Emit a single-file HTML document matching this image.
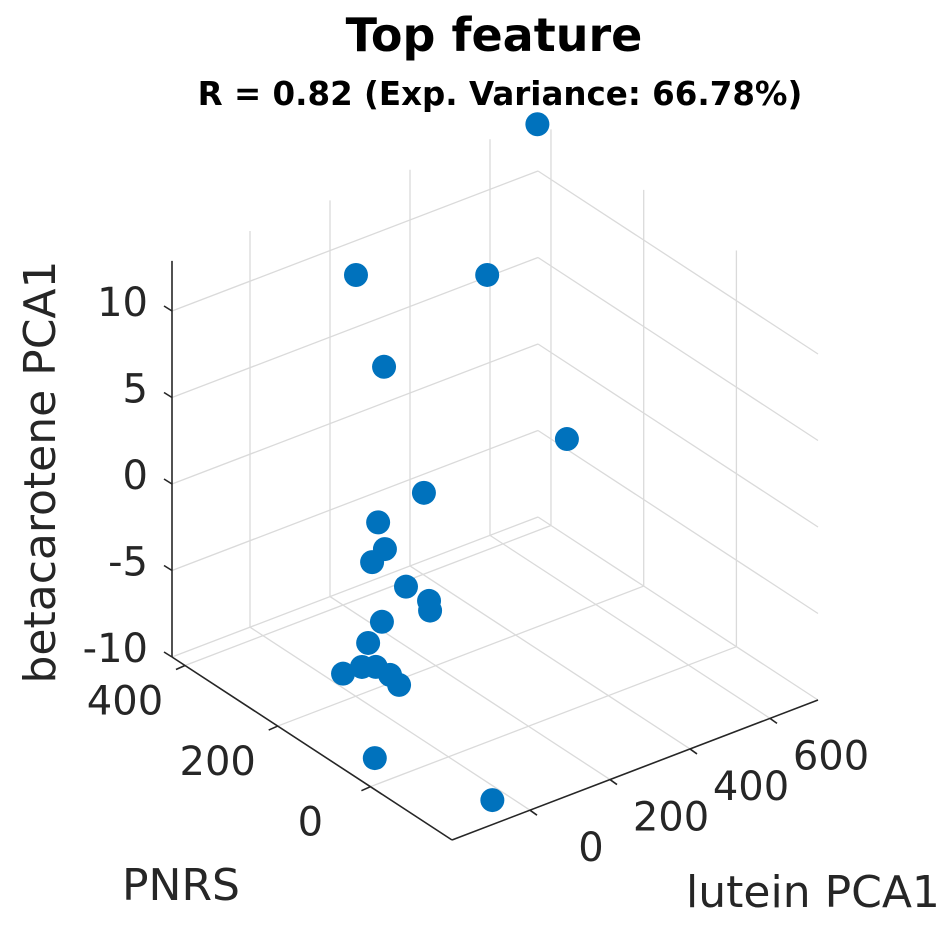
<!DOCTYPE html>
<html><head><meta charset="utf-8"><style>
html,body{margin:0;padding:0;background:#fff;width:945px;height:945px;overflow:hidden}
svg text{font-family:"DejaVu Sans","Liberation Sans",sans-serif;fill:#262626}
</style></head><body>
<svg id="chart" width="945" height="945" viewBox="0 0 945 945" xmlns="http://www.w3.org/2000/svg">
<rect width="945" height="945" fill="#fff"/>
<g id="grid"></g><g id="axes"></g><g id="pts"></g><g id="labels"></g>
<text x="494" y="51" text-anchor="middle" font-size="46" font-weight="bold" style="fill:#000">Top feature</text>
<text x="500" y="105" text-anchor="middle" font-size="32.5" font-weight="bold" style="fill:#000">R = 0.82 (Exp. Variance: 66.78%)</text>
<text transform="translate(55,472) rotate(-90)" text-anchor="middle" font-size="44">betacarotene PCA1</text>
<text x="181" y="900" text-anchor="middle" font-size="44">PNRS</text>
<text x="813" y="907" text-anchor="middle" font-size="44">lutein PCA1</text>
</svg>
<script>
const lutein=[715,61,389,130,411,181,121,109,99,135,137,157,54,23,-49,-3,19,43,54,-140,-35];
const pnrs=[425,252,252,251,99,209,256,231,250,208,160,175,190,193,185,184,173,163,153,38,-125];
const beta=[12.8,12.9,10,7,3,0,-2,-3,-4,-5,-5,-6,-6,-7,-8,-8,-8,-8.5,-9,-9.5,-10];
const luteinTicks=[0,200,400,600];
const pnrsTicks=[0,200,400];
const zTicks=[-10,-5,0,5,10];
const LMIN=-195,LMAX=720,PMIN=-176,PMAX=428,ZMIN=-10,ZMAX=12.9;
const F=[452,840],UL=[366,-140],VP=[-280,-183],ZS=17.3;
function proj(l,p,z){
  const a=(l-LMIN)/(LMAX-LMIN),b=(p-PMIN)/(PMAX-PMIN);
  return [F[0]+a*UL[0]+b*VP[0], F[1]+a*UL[1]+b*VP[1]-(z-ZMIN)*ZS];
}
const NS="http://www.w3.org/2000/svg";
function line(g,p1,p2,col,w){
  const e=document.createElementNS(NS,'line');
  e.setAttribute('x1',p1[0]);e.setAttribute('y1',p1[1]);e.setAttribute('x2',p2[0]);e.setAttribute('y2',p2[1]);
  e.setAttribute('stroke',col);e.setAttribute('stroke-width',w);
  g.appendChild(e);return e;
}
function txt(g,x,y,s,anchor){
  const t=document.createElementNS(NS,'text');
  t.setAttribute('x',x);t.setAttribute('y',y);t.setAttribute('font-size','40');t.setAttribute('text-anchor',anchor);
  t.textContent=s;g.appendChild(t);return t;
}
const grid=document.getElementById('grid'),axes=document.getElementById('axes'),pts=document.getElementById('pts'),labels=document.getElementById('labels');
const GC='#dadada';
luteinTicks.forEach(l=>{
  let e=line(grid,proj(l,PMIN,ZMIN),proj(l,PMAX,ZMIN),GC,1.3);
  
  
  e=line(grid,proj(l,PMAX,ZMIN),proj(l,PMAX,ZMAX),GC,1.3);
  
  
});
pnrsTicks.forEach(p=>{
  let e=line(grid,proj(LMIN,p,ZMIN),proj(LMAX,p,ZMIN),GC,1.3);
  
  
  e=line(grid,proj(LMAX,p,ZMIN),proj(LMAX,p,ZMAX),GC,1.3);
  
  
});
zTicks.forEach(z=>{
  let e=line(grid,proj(LMIN,PMAX,z),proj(LMAX,PMAX,z),GC,1.3);
  
  
  e=line(grid,proj(LMAX,PMAX,z),proj(LMAX,PMIN,z),GC,1.3);
  
  
});
const AC='#262626';
let ax=line(axes,proj(LMIN,PMAX,ZMIN),proj(LMIN,PMAX,ZMAX),AC,1.6);


ax=line(axes,proj(LMIN,PMAX,ZMIN),proj(LMIN,PMIN,ZMIN),AC,1.6);


ax=line(axes,proj(LMIN,PMIN,ZMIN),proj(LMAX,PMIN,ZMIN),AC,1.6);


zTicks.forEach(z=>{
  const p=proj(LMIN,PMAX,z);
  const t=line(axes,p,[p[0]-8,p[1]-5],AC,1.6);
  
  
  const lb=txt(labels,p[0]-24,p[1]+5,String(z),'end');
  
  
});
pnrsTicks.forEach(v=>{
  const p=proj(LMIN,v,ZMIN);
  const t=line(axes,p,[p[0]-9,p[1]+4],AC,1.6);
  
  
  const lb=txt(labels,p[0]-60,p[1]+49,String(v),'middle');
  
  
});
luteinTicks.forEach(v=>{
  const p=proj(v,PMIN,ZMIN);
  const t=line(axes,p,[p[0]+7,p[1]+5],AC,1.6);
  
  
  const lb=txt(labels,p[0]+61,p[1]+51,String(v),'middle');
  
  
});
for(let i=0;i<lutein.length;i++){
  const q=proj(lutein[i],pnrs[i],beta[i]);
  const c=document.createElementNS(NS,'circle');
  c.setAttribute('cx',q[0]);c.setAttribute('cy',q[1]);c.setAttribute('r',12);c.setAttribute('fill','#0072BD');
  
  
  pts.appendChild(c);
}
</script>
</body></html>
